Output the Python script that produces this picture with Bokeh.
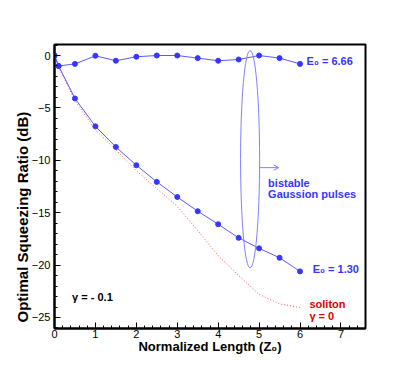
from bokeh.plotting import figure
from bokeh.models import Range1d, Label, Arrow, OpenHead, FixedTicker, Title
from bokeh.embed import file_html
from bokeh.resources import INLINE

# ---- data ----
length = [0.0, 0.1, 0.5, 1.0, 1.5, 2.0, 2.5, 3.0, 3.5, 4.0, 4.5, 5.0, 5.5, 6.0]
ratio_e666 = [0.0, -1.0, -0.8, -0.03, -0.5, -0.12, 0.0, 0.0, -0.25, -0.5, -0.38, 0.0, -0.25, -0.8]
ratio_e130 = [0.0, -1.0, -4.1, -6.76, -8.73, -10.47, -12.06, -13.5, -14.86, -16.1, -17.4, -18.4, -19.3, -20.6]
soliton_len = [0.0, 0.1, 0.5, 1.0, 1.5, 2.0, 2.5, 3.0, 3.5, 4.0, 4.5, 5.0, 5.5, 6.0]
soliton_ratio = [0.0, -1.1, -4.3, -7.1, -9.0, -11.0, -12.7, -14.4, -16.7, -19.1, -21.0, -22.8, -23.7, -24.05]
x_ticks = [0, 1, 2, 3, 4, 5, 6, 7]
y_ticks = [0, -5, -10, -15, -20, -25]
x_minor = [i * 0.2 for i in range(0, 39)]
y_minor = list(range(-26, 2))

BLUE = "#3636ff"
BLUE_LINE = "#5a5aff"
BLUE_LIGHT = "#8080ff"
RED = "#e00000"
FONT = "Liberation Sans"

p = figure(width=405, height=360, output_backend="svg", toolbar_location=None,
           x_range=Range1d(0, 7.6), y_range=Range1d(-26.05, 1.05),
           min_border_left=54, min_border_right=40, min_border_top=44, min_border_bottom=32)

p.xgrid.visible = False
p.ygrid.visible = False
p.outline_line_color = "black"
p.outline_line_width = 2
p.background_fill_color = "white"
p.border_fill_color = "white"

for ax in (p.xaxis[0], p.yaxis[0]):
    ax.axis_line_width = 2
    ax.axis_line_color = "black"
    ax.major_tick_in = 6
    ax.major_tick_out = 0
    ax.minor_tick_in = 3
    ax.minor_tick_out = 0
    ax.major_tick_line_color = "black"
    ax.minor_tick_line_color = "black"
    ax.major_label_text_font = FONT
    ax.major_label_text_font_size = "11px"
    ax.major_label_text_color = "black"
    ax.axis_label_text_font = FONT
    ax.axis_label_text_font_style = "bold"
    ax.axis_label_text_font_size = "13px"
    ax.axis_label_text_color = "black"

p.xaxis.ticker = FixedTicker(ticks=x_ticks, minor_ticks=x_minor)
p.yaxis.ticker = FixedTicker(ticks=y_ticks, minor_ticks=y_minor)
p.xaxis.major_label_standoff = 1
p.yaxis.major_label_standoff = 4
p.xaxis.axis_label = "Normalized Length (Z\u2080)"
p.xaxis.axis_label_standoff = -2

# y-axis title, placed a little below the frame centre as in the reference
p.add_layout(Title(text="Optimal Squeezing Ratio (dB)", align="left", offset=6, standoff=-4,
                   text_font=FONT, text_font_style="bold", text_font_size="15px",
                   text_color="black"), "left")

# soliton curve
p.line(soliton_len, soliton_ratio, line_color="#ff5555", line_width=1, line_dash="1 2")

# series
p.line(length, ratio_e666, line_color=BLUE_LINE, line_width=1)
p.scatter(length, ratio_e666, size=5, fill_color=BLUE, line_color=BLUE)
p.line(length, ratio_e130, line_color=BLUE_LINE, line_width=1)
p.scatter(length, ratio_e130, size=5, fill_color=BLUE, line_color=BLUE)

# ellipse marking bistable pulses
p.ellipse(x=[4.78], y=[-9.9], width=[0.465], height=[20.76],
          fill_alpha=0, line_color=BLUE_LIGHT, line_width=1)
p.add_layout(Arrow(end=OpenHead(size=5, line_color=BLUE_LIGHT, line_width=1),
                   x_start=5.0, y_start=-10.7, x_end=5.48, y_end=-10.7,
                   line_color=BLUE_LIGHT, line_width=1))


def lab(x, y, text, color):
    p.add_layout(Label(x=x, y=y, text=text, text_color=color, text_font=FONT,
                       text_font_style="bold", text_font_size="11px",
                       text_baseline="middle", text_align="left"))


lab(6.16, -0.48, "E\u2080 = 6.66", BLUE)
lab(6.31, -20.42, "E\u2080 = 1.30", BLUE)
lab(5.22, -12.12, "bistable", BLUE)
lab(5.22, -13.17, "Gaussion pulses", BLUE)
lab(6.23, -23.71, "soliton", RED)
lab(6.23, -24.84, "\u03b3 = 0", RED)
lab(0.43, -23.0, "\u03b3 = - 0.1", "black")

open("out.html", "w").write(file_html(p, INLINE))
